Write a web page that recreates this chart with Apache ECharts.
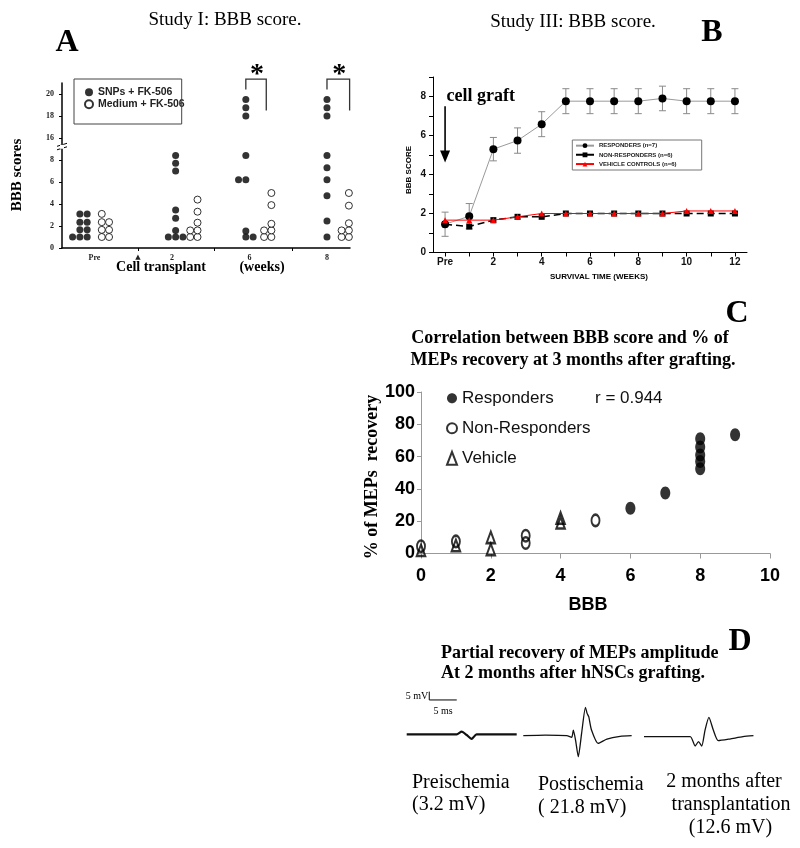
<!DOCTYPE html>
<html><head><meta charset="utf-8">
<script src="https://cdn.jsdelivr.net/npm/echarts@6/dist/echarts.min.js"></script>
<style>html,body{margin:0;padding:0;background:#fff}#c{width:800px;height:848px}</style>
</head><body><div id="c"></div>
<script>
// ---------------- Panel A: Study I dot plot (each dot: [column in its cluster, BBB score]) ----------------
const aGroups = ['Pre', '2', '6', '8'];
const aTransplantLabel = '▲';
const aSnpsPre = [[-3,1],[-2,1],[-1,1],[-2,1.65],[-1,1.65],[-2,2.35],[-1,2.35],[-2,3.1],[-1,3.1]];
const aMedPre  = [[1,1],[2,1],[1,1.65],[2,1.65],[1,2.35],[2,2.35],[1,3.1]];
const aSnps2   = [[-0.5,1],[0.5,1],[1.5,1],[0.5,1.6],[0.5,2.7],[0.5,3.45],[0.5,7.0],[0.5,7.7],[0.5,8.4]];
const aMed2    = [[2.5,1],[3.5,1],[2.5,1.6],[3.5,1.6],[3.5,2.3],[3.5,3.3],[3.5,4.4]];
const aSnps6   = [[-0.5,1],[0.5,1],[-0.5,1.55],[-1.5,6.2],[-0.5,6.2],[-0.5,8.4],[-0.5,18],[-0.5,18.75],[-0.5,19.5]];
const aMed6    = [[2,1],[3,1],[2,1.6],[3,1.6],[3,2.2],[3,3.9],[3,5.0]];
const aSnps8   = [[0,1],[0,2.45],[0,4.75],[0,6.2],[0,7.3],[0,8.4],[0,18],[0,18.75],[0,19.5]];
const aMed8    = [[2,1],[3,1],[2,1.6],[3,1.6],[3,2.25],[3,3.85],[3,5.0]];
const aYTicks  = [0, 2, 4, 6, 8, 16, 18, 20];

// ---------------- Panel B: Study III BBB over time ----------------
const bWeeks   = [0,1,2,3,4,5,6,7,8,9,10,11,12];
const bWeekLabels = ['Pre','','2','','4','','6','','8','','10','','12'];
const bResp    = [1.45,1.86,5.3,5.74,6.58,7.76,7.76,7.76,7.76,7.9,7.76,7.76,7.76];
const bRespErr = [0.62,0.65,0.6,0.65,0.64,0.64,0.64,0.64,0.64,0.63,0.64,0.64,0.64];
const bNonResp = [1.45,1.33,1.66,1.83,1.83,2.0,2.0,2.0,2.0,2.0,2.0,2.0,2.0];
const bVehicle = [1.66,1.66,1.66,1.83,2.0,2.0,2.0,2.0,2.0,2.0,2.13,2.13,2.13];

// ---------------- Panel C: BBB vs % MEPs recovery ----------------
const cResp    = [[6,28],[7,37.5],[8,71],[8,66],[8,61],[8,57],[8,52.5],[9,73.5]];
const cNonResp = [[0,4.5],[1,7.5],[3,11],[3,6.5],[5,20.5]];
const cVehicle = [[0,2],[1,5],[2,10],[2,2.5],[4,22],[4,19]];

// ---------------- Panel D: MEP traces ([ms, mV]) ----------------
const dPre  = [[0,0],[9.1,0],[10,1.6],[10.9,-0.4],[11.8,-2.8],[12.7,0],[20,0]];
const dPost = [[0,0],[4,0.3],[7.9,0],[8.8,-1],[9.1,3.4],[9.5,-2.6],[10,-12.6],[10.6,1.4],[11.3,17],[11.6,13.4],[11.9,11.4],[12.4,3.4],[13.6,-4.6],[15.2,-2],[17.6,-0.4],[19.7,0]];
const dLate = [[0,0],[8.4,0],[9.3,-5.6],[9.9,-3],[10.5,-5.6],[11.1,4],[11.8,11.6],[12.6,4],[13.5,-2.4],[15.6,-1.4],[18,0],[19.9,0.6]];
const dScaleMs = 5, dScaleMv = 5;

const SERIF = '"Liberation Serif", "Times New Roman", serif';
const SANS = '"Liberation Sans", Arial, sans-serif';
const ELLIPSE = 'path://M0,-1C0.552,-1,1,-0.552,1,0C1,0.552,0.552,1,0,1C-0.552,1,-1,0.552,-1,0C-1,-0.552,-0.552,-1,0,-1Z';

// broken axis: values >= 16 are drawn 6 units lower
function bbbMap(v){ return v > 12 ? v - 6 : v; }
const colW = 0.0942;
function aPoints(groups){
  const out = [];
  groups.forEach((g, gi) => g.forEach(([c, v]) => out.push([gi + c * colW, bbbMap(v)])));
  return out;
}
const aTransplantPos = 0.56;
const aLabelPos = [0, aTransplantPos, 1, 2, 3];
const aLabelTxt = [aGroups[0], aTransplantLabel, aGroups[1], aGroups[2], aGroups[3]];

const chart = echarts.init(document.getElementById('c'));

const option = {
  animation: false,
  backgroundColor: '#fff',
  grid: [
    {left: 62, top: 83, width: 288, height: 165},
    {left: 433, top: 77, width: 314, height: 175.5},
    {left: 421, top: 392, width: 349, height: 161.5},
    {left: 406.7, top: 684.3, width: 110, height: 100},
    {left: 523.3, top: 685.7, width: 110, height: 100},
    {left: 644, top: 686.7, width: 110, height: 100}
  ],
  xAxis: [
    {type: 'value', gridIndex: 0, min: -0.419, max: 3.297,
      axisLine: {show: true, onZero: false, lineStyle: {color: '#000', width: 1.5}},
      axisTick: {show: true, customValues: [aTransplantPos, 1.55, 2.55], length: 3, lineStyle: {color: '#000'}},
      axisLabel: {show: true, customValues: aLabelPos, margin: 6, color: '#222',
        fontFamily: SERIF, fontWeight: 'bold', fontSize: 8,
        formatter: v => { for (let i = 0; i < aLabelPos.length; i++) if (Math.abs(v - aLabelPos[i]) < 1e-6) return aLabelTxt[i] === aTransplantLabel ? '{s|' + aTransplantLabel + '}' : aLabelTxt[i]; return ''; },
        rich: {s: {fontSize: 7, fontFamily: 'DejaVu Sans', color: '#222'}}},
      splitLine: {show: false}},
    {type: 'value', gridIndex: 1, min: -0.5, max: 12.5,
      axisLine: {show: true, onZero: false, lineStyle: {color: '#000', width: 1}},
      axisTick: {show: true, customValues: bWeeks, length: 4, lineStyle: {color: '#000'}},
      axisLabel: {show: true, customValues: bWeeks.filter(w => bWeekLabels[w] !== ''), margin: 5, color: '#111',
        fontFamily: SANS, fontWeight: 'bold', fontSize: 10, formatter: v => bWeekLabels[Math.round(v)]},
      splitLine: {show: false}},
    {type: 'value', gridIndex: 2, min: 0, max: 10, interval: 2,
      axisLine: {show: true, onZero: false, lineStyle: {color: '#999', width: 1}},
      axisTick: {show: true, length: 5, lineStyle: {color: '#999'}},
      axisLabel: {show: true, margin: 14, color: '#000', fontFamily: SANS, fontWeight: 'bold', fontSize: 18},
      splitLine: {show: false}},
    {type: 'value', gridIndex: 3, min: 0, max: 20, show: false},
    {type: 'value', gridIndex: 4, min: 0, max: 20, show: false},
    {type: 'value', gridIndex: 5, min: 0, max: 20, show: false}
  ],
  yAxis: [
    {type: 'value', gridIndex: 0, min: 0, max: 15, interval: 2,
      axisLine: {show: true, onZero: false, lineStyle: {color: '#000', width: 1.5}},
      axisTick: {show: true, length: 3, lineStyle: {color: '#000'}},
      axisLabel: {show: true, showMaxLabel: false, margin: 8, color: '#222', fontFamily: SERIF, fontWeight: 'bold', fontSize: 8,
        formatter: v => { const t = v <= 8 ? v : (v >= 10 && v <= 14 ? v + 6 : null); return aYTicks.indexOf(t) >= 0 ? String(t) : ''; }},
      splitLine: {show: false}},
    {type: 'value', gridIndex: 1, min: 0, max: 9, interval: 1,
      axisLine: {show: true, onZero: false, lineStyle: {color: '#000', width: 1}},
      axisTick: {show: true, length: 4, lineStyle: {color: '#000'}},
      axisLabel: {show: true, margin: 7, color: '#111', fontFamily: SANS, fontWeight: 'bold', fontSize: 10,
        formatter: v => (v % 2 === 0 ? String(v) : '')},
      splitLine: {show: false}},
    {type: 'value', gridIndex: 2, min: 0, max: 100, interval: 20,
      axisLine: {show: true, onZero: false, lineStyle: {color: '#999', width: 1}},
      axisTick: {show: true, length: 4, lineStyle: {color: '#999'}},
      axisLabel: {show: true, margin: 6, color: '#000', fontFamily: SANS, fontWeight: 'bold', fontSize: 18},
      splitLine: {show: false}},
    {type: 'value', gridIndex: 3, min: -30, max: 30, show: false},
    {type: 'value', gridIndex: 4, min: -30, max: 30, show: false},
    {type: 'value', gridIndex: 5, min: -30, max: 30, show: false}
  ],
  legend: [
    {data: ['SNPs + FK-506', 'Medium + FK-506'], left: 84, top: 86.5, orient: 'vertical', padding: 0,
      itemWidth: 8, itemHeight: 8, itemGap: 0.5, selectedMode: false,
      textStyle: {fontFamily: SANS, fontWeight: 'bold', fontSize: 10.5, lineHeight: 11.5, color: '#222'}},
    {data: ['RESPONDERS (n=7)', 'NON-RESPONDERS (n=6)', 'VEHICLE CONTROLS (n=6)'], left: 575, top: 142.4, orient: 'vertical', padding: 0,
      itemWidth: 18, itemHeight: 6, itemGap: 2.7, selectedMode: false,
      textStyle: {fontFamily: SANS, fontWeight: 'bold', fontSize: 6, lineHeight: 6.5, color: '#222'}},
    {data: ['Responders', 'Non-Responders', 'Vehicle'], left: 446, top: 389.8, orient: 'vertical', padding: 0,
      itemWidth: 10, itemHeight: 13, itemGap: 13, selectedMode: false,
      textStyle: {fontFamily: SANS, fontSize: 17, lineHeight: 17, color: '#111'}}
  ],
  series: [
    // Panel A
    {type: 'scatter', name: 'SNPs + FK-506', xAxisIndex: 0, yAxisIndex: 0, symbol: 'circle', symbolSize: 7,
      itemStyle: {color: '#000'}, data: aPoints([aSnpsPre, aSnps2, aSnps6, aSnps8])},
    {type: 'scatter', name: 'Medium + FK-506', xAxisIndex: 0, yAxisIndex: 0, symbol: 'circle', symbolSize: 7,
      itemStyle: {color: '#fff', borderColor: '#000', borderWidth: 1}, data: aPoints([aMedPre, aMed2, aMed6, aMed8])},
    // Panel B
    {type: 'custom', xAxisIndex: 1, yAxisIndex: 1, z: 1,
      data: bResp.map((v, i) => [bWeeks[i], v, bRespErr[i]]),
      renderItem: (params, api) => {
        const x = api.value(0), y = api.value(1), e = api.value(2);
        const t = api.coord([x, y + e]), b = api.coord([x, y - e]);
        const cap = 3.5, st = {stroke: '#8a8a8a', lineWidth: 1};
        return {type: 'group', children: [
          {type: 'line', shape: {x1: t[0], y1: t[1], x2: b[0], y2: b[1]}, style: st},
          {type: 'line', shape: {x1: t[0] - cap, y1: t[1], x2: t[0] + cap, y2: t[1]}, style: st},
          {type: 'line', shape: {x1: b[0] - cap, y1: b[1], x2: b[0] + cap, y2: b[1]}, style: st}
        ]};
      }},
    {type: 'line', name: 'RESPONDERS (n=7)', xAxisIndex: 1, yAxisIndex: 1, z: 3,
      symbol: 'circle', symbolSize: 8, lineStyle: {color: '#9a9a9a', width: 1}, itemStyle: {color: '#000'},
      data: bResp.map((v, i) => [bWeeks[i], v])},
    {type: 'line', name: 'NON-RESPONDERS (n=6)', xAxisIndex: 1, yAxisIndex: 1, z: 4,
      symbol: 'rect', symbolSize: 6, lineStyle: {color: '#000', width: 1.5, type: [7, 4]}, itemStyle: {color: '#000'},
      data: bNonResp.map((v, i) => [bWeeks[i], v])},
    {type: 'line', name: 'VEHICLE CONTROLS (n=6)', xAxisIndex: 1, yAxisIndex: 1, z: 5,
      symbol: 'triangle', symbolSize: 6, lineStyle: {color: '#ff0000', width: 1}, itemStyle: {color: '#ff0000'},
      data: bVehicle.map((v, i) => [bWeeks[i], v])},
    // Panel C
    {type: 'scatter', name: 'Responders', xAxisIndex: 2, yAxisIndex: 2, symbol: ELLIPSE, symbolSize: [10, 13],
      itemStyle: {color: '#000'}, data: cResp},
    {type: 'scatter', name: 'Non-Responders', xAxisIndex: 2, yAxisIndex: 2, symbol: ELLIPSE, symbolSize: [8, 11.5],
      itemStyle: {color: 'rgba(255,255,255,0)', borderColor: '#000', borderWidth: 2.2}, data: cNonResp},
    {type: 'scatter', name: 'Vehicle', xAxisIndex: 2, yAxisIndex: 2, symbol: 'triangle', symbolSize: [8.5, 11.5],
      itemStyle: {color: 'rgba(255,255,255,0)', borderColor: '#000', borderWidth: 2.2}, data: cVehicle},
    // Panel D
    {type: 'line', xAxisIndex: 3, yAxisIndex: 3, symbol: 'none', smooth: 0.2, lineStyle: {color: '#111', width: 2.2}, data: dPre},
    {type: 'line', xAxisIndex: 4, yAxisIndex: 4, symbol: 'none', smooth: 0.2, lineStyle: {color: '#111', width: 1.3}, data: dPost},
    {type: 'line', xAxisIndex: 5, yAxisIndex: 5, symbol: 'none', smooth: 0.2, lineStyle: {color: '#111', width: 1.3}, data: dLate},
    {type: 'line', xAxisIndex: 3, yAxisIndex: 3, symbol: 'none', lineStyle: {color: '#000', width: 1},
      data: [[4.1, 20.6 + dScaleMv], [4.1, 20.6], [4.1 + dScaleMs, 20.6]]}
  ]
};
chart.setOption(option);

function px(grid, pt){ return chart.convertToPixel({gridIndex: grid}, pt); }
function txt(text, x, y, font, align, vAlign, rot, fill){
  align = align || 'center'; vAlign = vAlign || 'middle';
  return {type: 'text', x: x, y: y, rotation: rot || 0, z: 100,
    style: {text: text, font: font, fill: fill || '#000', align: align, verticalAlign: vAlign, textAlign: align, textVerticalAlign: vAlign}};
}
function line(p, q, w, color){
  return {type: 'line', z: 100, shape: {x1: p[0], y1: p[1], x2: q[0], y2: q[1]}, style: {stroke: color || '#000', lineWidth: w || 1}};
}
const g = [];
// Panel A
g.push(txt('Study I: BBB score.', 225, 20, '19px ' + SERIF));
g.push(txt('A', 67, 43, 'bold 32px ' + SERIF));
g.push(txt('BBB scores', 17, 175, 'bold 15px ' + SERIF, 'center', 'middle', Math.PI / 2));
g.push(txt('Cell transplant', 161, 267, 'bold 14px ' + SERIF));
g.push(txt('(weeks)', 262, 267, 'bold 14px ' + SERIF));
g.push({type: 'rect', z: 100, shape: {x: 74, y: 79, width: 107.7, height: 45}, style: {fill: 'none', stroke: '#444', lineWidth: 1}});
// axis break marker
const br = px(0, [-0.419, 9.2]);
g.push({type: 'rect', z: 101, shape: {x: br[0] - 2, y: br[1] - 2, width: 4, height: 4}, style: {fill: '#fff'}});
g.push(line([br[0] - 5, br[1] - 0.5], [br[0] + 5, br[1] - 3.5], 1));
g.push(line([br[0] - 5, br[1] + 3], [br[0] + 5, br[1]], 1));
// significance brackets
[[2, -0.5, 2.3], [3, 0, 3.1]].forEach(([gi, c0, c1]) => {
  const lt = px(0, [gi + c0 * colW, 15.35]), lb = px(0, [gi + c0 * colW, 14.4]);
  const rt = px(0, [gi + c1 * colW, 15.35]), rb = px(0, [gi + c1 * colW, 12.5]);
  g.push({type: 'polyline', z: 100, shape: {points: [lb, lt, rt, rb]}, style: {stroke: '#333', lineWidth: 1.3, fill: 'none'}});
  g.push(txt('*', (lt[0] + rt[0]) / 2 + 1, lt[1] - 4, 'bold 28px ' + SERIF));
});
// Panel B
g.push(txt('Study III: BBB score.', 573, 22, '19px ' + SERIF));
g.push(txt('B', 712, 33, 'bold 32px ' + SERIF));
g.push(txt('cell graft', 446.5, 96, 'bold 18px ' + SERIF, 'left'));
const at = px(1, [0, 7.5]), ab = px(1, [0, 4.62]);
g.push(line(at, [ab[0], ab[1] - 8], 1.6));
g.push({type: 'polygon', z: 100, shape: {points: [[ab[0] - 5, ab[1] - 12], [ab[0] + 5, ab[1] - 12], ab]}, style: {fill: '#000'}});
g.push(txt('BBB SCORE', 409, 170, 'bold 8px ' + SANS, 'center', 'middle', Math.PI / 2));
g.push(txt('SURVIVAL TIME (WEEKS)', 599, 277, 'bold 8px ' + SANS));
g.push({type: 'rect', z: 100, shape: {x: 572.3, y: 140, width: 129.4, height: 30}, style: {fill: 'none', stroke: '#777', lineWidth: 1}});
// Panel C
g.push(txt('C', 737, 314, 'bold 32px ' + SERIF));
g.push(txt('Correlation between BBB score and % of', 570, 338, 'bold 18px ' + SERIF));
g.push(txt('MEPs recovery at 3 months after grafting.', 573, 360, 'bold 18px ' + SERIF));
g.push(txt('r = 0.944', 595, 398, '17px ' + SANS, 'left', 'middle', 0, '#111'));
g.push(txt('% of MEPs  recovery', 372, 477, 'bold 18px ' + SERIF, 'center', 'middle', Math.PI / 2));
g.push(txt('BBB', 588, 605, 'bold 18px ' + SANS));
// Panel D
g.push(txt('D', 740, 642, 'bold 32px ' + SERIF));
g.push(txt('Partial recovery of MEPs amplitude', 441, 653, 'bold 18px ' + SERIF, 'left'));
g.push(txt('At 2 months after hNSCs grafting.', 441, 673, 'bold 18px ' + SERIF, 'left'));
const sb = px(3, [4.1, 20.6]), sbTop = px(3, [4.1, 20.6 + dScaleMv]), sbEnd = px(3, [4.1 + dScaleMs, 20.6]);
g.push(txt('5 mV', sb[0] - 1, (sb[1] + sbTop[1]) / 2 + 1, '10px ' + SERIF, 'right'));
g.push(txt('5 ms', (sb[0] + sbEnd[0]) / 2, sb[1] + 11, '10px ' + SERIF));
g.push(txt('Preischemia', 412, 783, '20px ' + SERIF, 'left'));
g.push(txt('(3.2 mV)', 412, 805, '20px ' + SERIF, 'left'));
g.push(txt('Postischemia', 538, 785, '20px ' + SERIF, 'left'));
g.push(txt('( 21.8 mV)', 538, 808, '20px ' + SERIF, 'left'));
g.push(txt('2 months after', 724, 782, '20px ' + SERIF));
g.push(txt('transplantation', 731, 805, '20px ' + SERIF));
g.push(txt('(12.6 mV)', 730.5, 828, '20px ' + SERIF));
chart.setOption({graphic: {elements: g}});
</script>
</body></html>
